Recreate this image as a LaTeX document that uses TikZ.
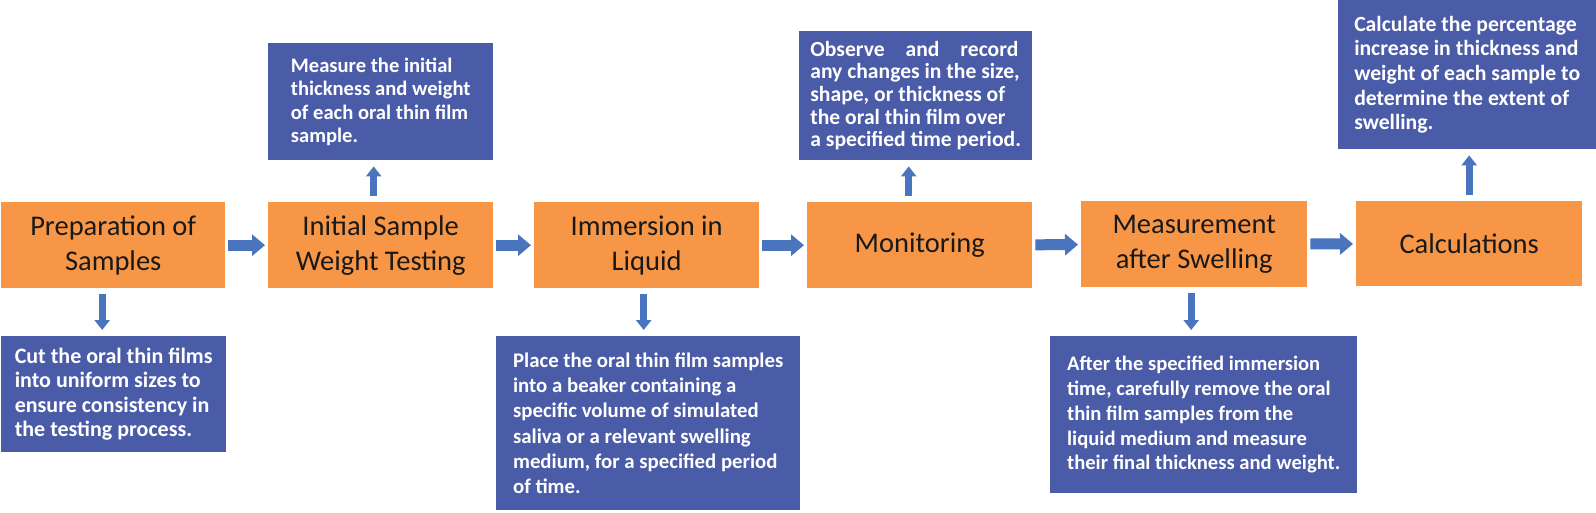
\documentclass[tikz,border=0pt]{standalone}
\usepackage{fontspec}
\setmainfont{Carlito}
\usetikzlibrary{arrows.meta}
\definecolor{stepfill}{HTML}{F79646}
\definecolor{notefill}{HTML}{4A5BA8}
\definecolor{arrowblue}{HTML}{4A74BE}

\begin{document}
\begin{tikzpicture}[x=1pt,y=-1pt,
    stepbox/.style={rectangle, fill=stepfill, anchor=north west, inner sep=0pt,
      align=center, text=black!90, font=\fontsize{28.5}{35}\selectfont},
    notebox/.style={rectangle, fill=notefill, anchor=north west, inner sep=0pt,
      align=left, text=white},
    flow/.style={arrowblue, line width=11pt, -{Triangle[width=21pt,length=13pt]},
      shorten <=3pt, shorten >=3pt},
    side/.style={arrowblue, line width=7pt, -{Triangle[width=15pt,length=10pt]},
      shorten <=6pt, shorten >=6pt}]
    \useasboundingbox (0,0) rectangle (1596,512);
    \fill[white] (0,0) rectangle (1596,512);

    % Steps of the test
    \node[stepbox, minimum width=224pt, minimum height=86pt] (prep) at (1,202) {Preparation of\\Samples};
    \node[stepbox, minimum width=225pt, minimum height=86pt] (initw) at (268,202) {Initial Sample\\Weight Testing};
    \node[stepbox, minimum width=225pt, minimum height=86pt] (immer) at (534,202) {Immersion in\\Liquid};
    \node[stepbox, minimum width=225pt, minimum height=86pt] (monit) at (807,202) {Monitoring};
    \node[stepbox, minimum width=226pt, minimum height=86pt] (meas) at (1081,201) {Measurement\\after Swelling};
    \node[stepbox, minimum width=226pt, minimum height=85pt] (calc) at (1356,201) {Calculations};

    % Notes above and below
    \node[notebox, minimum width=225pt, minimum height=117pt, font=\fontsize{20.6}{23.5}\selectfont\bfseries] (weighnote) at (268,43)
      {Measure the initial\\thickness and weight\\of each oral thin film\\sample.};
    \node[notebox, minimum width=233pt, minimum height=129pt, font=\fontsize{21.6}{22.6}\selectfont\bfseries] (watchnote) at (799,31)
      {\makebox[208pt][s]{Observe and record}\\any changes in the size,\\shape, or thickness of\\the oral thin film over\\a specified time period.};
    \node[notebox, minimum width=258pt, minimum height=149pt, font=\fontsize{21.7}{24.6}\selectfont\bfseries] (calcnote) at (1338,0)
      {Calculate the percentage\\increase in thickness and\\weight of each sample to\\determine the extent of\\swelling.};
    \node[notebox, minimum width=225pt, minimum height=116pt, font=\fontsize{22}{24.2}\selectfont\bfseries] (cutnote) at (1,336)
      {Cut the oral thin films\\into uniform sizes to\\ensure consistency in\\the testing process.};
    \node[notebox, minimum width=304pt, minimum height=174pt, font=\fontsize{20.8}{25.2}\selectfont\bfseries] (dipnote) at (496,336)
      {Place the oral thin film samples\\into a beaker containing a\\specific volume of simulated\\saliva or a relevant swelling\\medium, for a specified period\\of time.};
    \node[notebox, minimum width=307pt, minimum height=157pt, font=\fontsize{20.6}{24.8}\selectfont\bfseries] (afternote) at (1050,336)
      {After the specified immersion\\time, carefully remove the oral\\thin film samples from the\\liquid medium and measure\\their final thickness and weight.};

    % Main flow
    \draw[flow] (prep) -- (initw);
    \draw[flow] (initw) -- (immer);
    \draw[flow] (immer) -- (monit);
    \draw[flow] (monit) -- (meas);
    \draw[flow] (meas) -- (calc);

    % Side arrows
    \draw[side] ([xshift=-11pt]prep.south) -- ([xshift=-11pt]prep.south |- cutnote.north);
    \draw[side] ([xshift=-7pt]initw.north) -- ([xshift=-7pt]initw.north |- weighnote.south);
    \draw[side] ([xshift=-3pt]immer.south) -- ([xshift=-3pt]immer.south |- dipnote.north);
    \draw[side] ([xshift=-11pt]monit.north) -- ([xshift=-11pt]monit.north |- watchnote.south);
    \draw[side] ([xshift=-3pt]meas.south) -- ([xshift=-3pt]meas.south |- afternote.north);
    \draw[side] (calc.north) -- (calc.north |- calcnote.south);
\end{tikzpicture}
\end{document}
